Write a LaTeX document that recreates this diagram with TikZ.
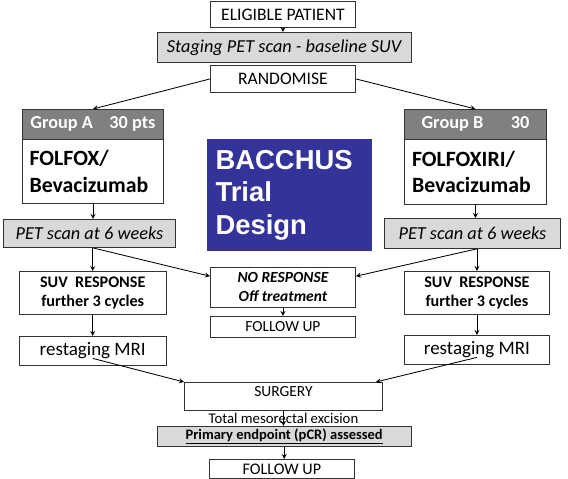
\documentclass[tikz,border=0pt]{standalone}
\usepackage{fontspec}
\setmainfont{Carlito}
\newfontfamily\arialfont{Liberation Sans}
\usetikzlibrary{calc}
\definecolor{bleubacchus}{RGB}{51,51,153}
\tikzstyle{boite} = [rectangle, draw=black!80, line width=0.6pt, fill=white, inner sep=1pt, align=center]
\tikzstyle{grise} = [boite, fill=gray!30]
\tikzstyle{entete} = [rectangle, draw=black!80, line width=0.6pt, fill=gray, text=white, font=\fontsize{13}{15}\selectfont\bfseries]
\tikzstyle{traitement} = [boite, inner xsep=0.18cm, text width=3.17cm, align=left, font=\fontsize{15.5}{19}\selectfont\bfseries]
\tikzstyle{fleche} = [->, >=stealth, line width=0.6pt, black]

\begin{document}
\begin{tikzpicture}[x=0.025cm, y=-0.025cm]
        \useasboundingbox (0,0) rectangle (568,479);

        \node (elig) [boite, anchor=north west, minimum width=3.625cm, minimum height=0.65cm, font=\fontsize{12.5}{14}\selectfont] at (210,1) {ELIGIBLE PATIENT};
        \node (stag) [grise, anchor=north west, minimum width=6.36cm, minimum height=0.75cm, font=\fontsize{13}{15}\selectfont\itshape] at (156.5,32) {Staging PET scan - baseline SUV};
        \node (rand) [boite, anchor=north west, minimum width=3.625cm, minimum height=0.675cm, font=\fontsize{12.5}{14}\selectfont] at (210,65) {RANDOMISE};

        \node (grpA) [entete, anchor=north west, minimum width=3.525cm, minimum height=0.75cm] at (22,109) {Group A\hspace{0.9em}30 pts};
        \node (folfox) [traitement, anchor=north west, minimum width=3.525cm, minimum height=1.6cm] at (22,139) {FOLFOX/\\Bevacizumab};

        \node (grpB) [entete, anchor=north west, minimum width=3.55cm, minimum height=0.75cm] at (404,109) {Group B\hspace{1.5em}30};
        \node (folfoxiri) [traitement, anchor=north west, minimum width=3.55cm, minimum height=1.625cm] at (404,139) {FOLFOXIRI/\\Bevacizumab};

        \node (bacchus) [rectangle, fill=bleubacchus, anchor=north west, minimum width=4.14cm, minimum height=2.8cm, inner sep=0.22cm, text width=3.7cm, align=left, text=white, font=\arialfont\fontsize{19.5}{23}\selectfont\bfseries] at (206.5,139) {BACCHUS\\Trial\\Design};

        \node (petA) [grise, anchor=north west, minimum width=4.3cm, minimum height=0.7cm, font=\fontsize{13}{15}\selectfont\itshape] at (3,219) {PET scan at 6 weeks};
        \node (petB) [grise, anchor=north west, minimum width=4.4cm, minimum height=0.75cm, font=\fontsize{13}{15}\selectfont\itshape] at (384,218) {PET scan at 6 weeks};

        \node (suvA) [boite, anchor=north west, minimum width=3.69cm, minimum height=1.075cm, font=\fontsize{11.5}{13.5}\selectfont\bfseries] at (18.5,271) {SUV\ \ RESPONSE\\further 3 cycles};
        \node (noresp) [boite, anchor=north west, minimum width=3.625cm, minimum height=1cm, font=\fontsize{11}{13.5}\selectfont\bfseries\itshape] at (210,267) {NO RESPONSE\\Off treatment};
        \node (suivi1) [boite, anchor=north west, minimum width=3.625cm, minimum height=0.525cm, font=\fontsize{11}{13}\selectfont] at (210,316) {FOLLOW UP};
        \node (suvB) [boite, anchor=north west, minimum width=3.625cm, minimum height=1.075cm, font=\fontsize{11.5}{13.5}\selectfont\bfseries] at (404,271) {SUV\ \ RESPONSE\\further 3 cycles};

        \node (mriA) [boite, anchor=north west, minimum width=3.69cm, minimum height=0.725cm, font=\fontsize{13.5}{16}\selectfont] at (18.5,336) {restaging MRI};
        \node (mriB) [boite, anchor=north west, minimum width=3.625cm, minimum height=0.725cm, font=\fontsize{13.5}{16}\selectfont] at (404,335) {restaging MRI};

        \node (surg) [boite, anchor=north west, minimum width=4.95cm, minimum height=0.7cm, text depth=7pt, font=\fontsize{11}{13}\selectfont] at (184,382) {SURGERY};
        \node (tme) [font=\fontsize{10.5}{12}\selectfont, inner sep=0pt] at (283.5,418) {Total mesorectal excision};
        \node (prim) [grise, anchor=north west, minimum width=6.36cm, minimum height=0.5cm, font=\fontsize{10.3}{12}\selectfont\bfseries] at (156.5,426) {\underline{Primary endpoint (pCR) assessed}};
        \node (suivi2) [boite, anchor=north west, minimum width=3.625cm, minimum height=0.475cm, font=\fontsize{11.5}{13}\selectfont] at (209,459) {FOLLOW UP};

        \draw[fleche] (elig.south) -- (elig.south |- stag.north);
        \draw[fleche] (rand.west) -- (grpA.north);
        \draw[fleche] (rand.east) -- (grpB.north);

        \draw[fleche] (folfox.south) -- (folfox.south |- petA.north);
        \draw[fleche] (folfoxiri.south) -- (folfoxiri.south |- petB.north);

        \draw[fleche] (suvA.north |- petA.south) -- (suvA.north);
        \draw[fleche] (suvA.north |- petA.south) -- ($(noresp.west)!0.55!(noresp.north west)$);
        \draw[fleche] (suvB.north |- petB.south) -- (suvB.north);
        \draw[fleche] (suvB.north |- petB.south) -- ($(noresp.east)!0.55!(noresp.north east)$);
        \draw[fleche] (noresp.south) -- (suivi1.north);

        \draw[fleche] (suvA.south) -- (mriA.north);
        \draw[fleche] (suvB.south) -- (mriB.north);

        \draw[fleche] ($(mriA.center)!0.5!(mriA.south)$) -- (surg.north west);
        \draw[fleche] ($(mriB.center)!0.5!(mriB.south)$) -- ($(surg.north east)+(-7,0)$);

        \draw[fleche] (surg.south) -- (surg.south |- prim.north);
        \draw[fleche] (prim.south) -- (prim.south |- suivi2.north);

    \end{tikzpicture}
\end{document}
